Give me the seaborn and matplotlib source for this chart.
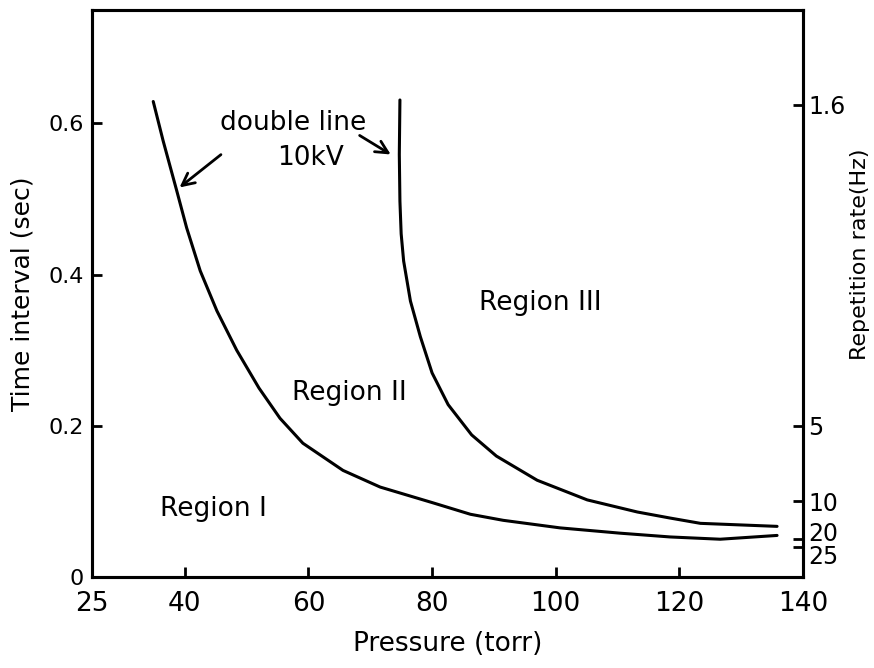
import matplotlib
matplotlib.use("Agg")
import matplotlib.pyplot as plt
import matplotlib.transforms as mtransforms
import seaborn as sns
import pandas as pd

# ---- data ----
pressure_a = [34.9, 36.5, 38.7, 40.3, 42.5, 45.2, 48.4, 52.0, 55.4, 59.1, 65.6,
              71.6, 80.2, 86.2, 91.5, 100.7, 110.4, 118.5, 126.6, 135.8]
interval_a = [0.629, 0.577, 0.511, 0.462, 0.405, 0.352, 0.300, 0.250, 0.210, 0.177, 0.141,
              0.119, 0.098, 0.083, 0.075, 0.065, 0.058, 0.053, 0.050, 0.055]

pressure_b = [74.8, 74.7, 74.8, 75.0, 75.4, 76.5, 78.1, 80.0, 82.6, 86.4, 90.4,
              97.0, 105.1, 113.2, 118.5, 123.4, 135.8]
interval_b = [0.631, 0.559, 0.497, 0.454, 0.418, 0.365, 0.318, 0.270, 0.228, 0.188, 0.160,
              0.128, 0.102, 0.086, 0.078, 0.071, 0.067]

x_ticks = [25, 40, 60, 80, 100, 120, 140]
y_ticks = [0, 0.2, 0.4, 0.6]
y_tick_labels = ["0", "0.2", "0.4", "0.6"]
rate_ticks = [1.6, 5, 10, 20, 25]
rate_tick_labels = ["1.6", "5", "10", "20", "25"]

sns.set_theme(style="ticks")
plt.rcParams['font.family'] = ['DejaVu Sans']
plt.rcParams.update({"text.color": "black", "axes.labelcolor": "black",
                     "xtick.color": "black", "ytick.color": "black",
                     "axes.edgecolor": "black"})

fig = plt.figure(figsize=(8.74, 6.68), dpi=100)
ax = fig.add_axes([0.1053, 0.1362, 0.8135, 0.8488])

df_a = pd.DataFrame({"p": pressure_a, "t": interval_a})
df_b = pd.DataFrame({"p": pressure_b, "t": interval_b})
sns.lineplot(data=df_a, x="p", y="t", sort=False, estimator=None, color="black", lw=2.2, ax=ax)
sns.lineplot(data=df_b, x="p", y="t", sort=False, estimator=None, color="black", lw=2.2, ax=ax)

ax.set_xlim(25, 140)
ax.set_ylim(0, 0.75)
ax.set_xticks(x_ticks)
ax.set_xticklabels([str(v) for v in x_ticks], fontsize=19)
ax.set_yticks(y_ticks)
ax.set_yticklabels(y_tick_labels, fontsize=16)
ax.tick_params(axis="both", direction="in", length=7, width=2, color="black")
ax.tick_params(axis="x", pad=10)
ax.tick_params(axis="y", pad=6)
for s in ax.spines.values():
    s.set_linewidth(2.2)
    s.set_color("black")
    s.set_visible(True)

ax.set_xlabel("Pressure (torr)", fontsize=19, labelpad=10)
ax.set_ylabel("Time interval (sec)", fontsize=18, labelpad=10)

# right axis: repetition rate = 1 / interval
ax2 = ax.twinx()
ax2.set_ylim(ax.get_ylim())
ax2.set_yticks([1.0 / f for f in rate_ticks])
ax2.set_yticklabels(rate_tick_labels, fontsize=17)
ax2.tick_params(axis="y", direction="in", length=7, width=2, pad=4, color="black")
for s in ax2.spines.values():
    s.set_linewidth(2.2)
    s.set_color("black")
ax2.set_ylabel("Repetition rate(Hz)", fontsize=16, rotation=90, va="center", ha="center")
ax2.yaxis.set_label_coords(1.08, 0.57)
labels = ax2.get_yticklabels()
labels[3].set_transform(labels[3].get_transform() +
                        mtransforms.ScaledTranslation(0, 0.08, fig.dpi_scale_trans))
labels[4].set_transform(labels[4].get_transform() +
                        mtransforms.ScaledTranslation(0, -0.08, fig.dpi_scale_trans))

# annotations
ax.text(57.5, 0.60, "double line", fontsize=19, ha="center", va="center")
ax.text(60.3, 0.554, "10kV", fontsize=19, ha="center", va="center")
ax.annotate("", xy=(38.8, 0.513), xytext=(46.2, 0.561),
            arrowprops=dict(arrowstyle="->", lw=2, color="black", mutation_scale=22))
ax.annotate("", xy=(73.7, 0.557), xytext=(67.9, 0.586),
            arrowprops=dict(arrowstyle="->", lw=2, color="black", mutation_scale=22))

ax.text(97.5, 0.363, "Region III", fontsize=19, ha="center", va="center")
ax.text(66.6, 0.243, "Region II", fontsize=19, ha="center", va="center")
ax.text(44.6, 0.090, "Region I", fontsize=19, ha="center", va="center")

fig.savefig("out.png", dpi=100)
